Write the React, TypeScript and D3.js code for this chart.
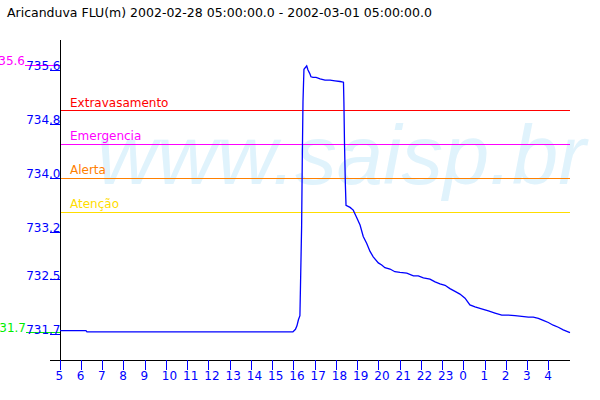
import React from "react";
import * as d3 from "d3";

const TITLE = "Aricanduva FLU(m) 2002-02-28 05:00:00.0 - 2002-03-01 05:00:00.0";
const START = new Date(2002, 1, 28, 5, 0, 0);
const END = new Date(2002, 2, 1, 5, 0, 0);

// hours after start
const hours = [
  0, 1.22, 1.27, 10.96, 11.08, 11.15, 11.22, 11.29, 11.37, 11.4, 11.435, 11.48, 11.61, 11.67, 11.75, 11.81,
  11.91, 12.05, 12.24, 12.47, 12.71, 12.94, 13.18, 13.34, 13.36, 13.39, 13.43, 13.46, 13.65, 13.8, 13.96,
  14.12, 14.27, 14.43, 14.59, 14.74, 14.98, 15.14, 15.29, 15.53, 15.76, 16.0, 16.32, 16.63, 16.86, 17.1,
  17.41, 17.65, 17.88, 18.12, 18.35, 18.59, 18.82, 19.06, 19.29, 19.53, 19.84, 20.16, 20.47, 20.79, 21.1,
  21.41, 21.73, 22.04, 22.27, 22.51, 22.74, 22.98, 23.21, 23.45, 23.68, 24.0,
];
const levels = [
  731.75, 731.75, 731.73, 731.73, 731.77, 731.82, 731.91, 731.97, 733.28, 734.23, 735.13, 735.61, 735.66,
  735.6, 735.55, 735.5, 735.49, 735.49, 735.47, 735.45, 735.45, 735.44, 735.43, 735.42, 735.13, 734.49,
  733.9, 733.6, 733.57, 733.53, 733.42, 733.31, 733.14, 733.04, 732.92, 732.84, 732.75, 732.72, 732.68,
  732.66, 732.62, 732.61, 732.6, 732.56, 732.56, 732.53, 732.51, 732.47, 732.44, 732.42, 732.37, 732.33,
  732.29, 732.23, 732.13, 732.1, 732.07, 732.04, 732.01, 731.98, 731.98, 731.97, 731.96, 731.95, 731.95,
  731.93, 731.9, 731.87, 731.83, 731.8, 731.76, 731.72,
];

const yTicks = [735.6, 734.8, 734.0, 733.2, 732.5, 731.7];
const thresholdNames = ["Extravasamento", "Emergencia", "Alerta", "Atenção"];
const thresholdValues = [735.0, 734.5, 734.0, 733.5];
const thresholdColors = ["#ff0000", "#ff00ff", "#ff8000", "#ffdd00"];
const maxValue = 735.66;
const minValue = 731.72;
const maxLabel = "735.6";
const minLabel = "731.7";

export default function App() {
  const W = 600, H = 400;
  const left = 60, right = 570, top = 40, bottom = 360;
  const x = d3.scaleTime().domain([START, END]).range([left, right]);
  const y = d3.scaleLinear().domain([731.7, 735.6]).range([334, 70]);
  const data = hours.map((h, i) => ({ t: new Date(START.getTime() + h * 3600e3), v: levels[i] }));
  const line = d3.line<{ t: Date; v: number }>().x((d) => x(d.t)).y((d) => y(d.v));
  const xTicks = x.ticks(d3.timeHour.every(1)!).filter((d) => d < END);
  const fmt = d3.timeFormat("%-H");
  const font = "DejaVu Sans, sans-serif";

  return (
    <svg width={W} height={H} style={{ position: "absolute", left: 0, top: 0, background: "#fff" }}>
      <rect x={0} y={0} width={W} height={H} fill="#fff" />
      <text x={97} y={184} fontFamily="Liberation Sans, Arial, sans-serif" fontStyle="italic" fontSize={83} fill="#e0f3fc">
        www.saisp.br
      </text>
      <text x={7} y={17} fontFamily={font} fontSize={12.5} fill="#000">{TITLE}</text>

      {thresholdValues.map((v, i) => (
        <g key={i}>
          <line x1={left} x2={right} y1={y(v)} y2={y(v)} stroke={thresholdColors[i]} strokeWidth={1} shapeRendering="crispEdges" />
          <text x={70} y={y(v) - 4} fontFamily={font} fontSize={12} fill={thresholdColors[i]}>{thresholdNames[i]}</text>
        </g>
      ))}

      {/* max/min markers */}
      <line x1={25} x2={left} y1={y(maxValue)} y2={y(maxValue)} stroke="#ff00ff" shapeRendering="crispEdges" />
      <text x={25} y={y(maxValue) - 1} textAnchor="end" fontFamily={font} fontSize={12} fill="#ff00ff">{maxLabel}</text>
      <line x1={26} x2={left} y1={y(minValue)} y2={y(minValue)} stroke="#00ee00" shapeRendering="crispEdges" />
      <text x={26} y={y(minValue) - 1} textAnchor="end" fontFamily={font} fontSize={12} fill="#00ee00">{minLabel}</text>

      {/* axes */}
      <line x1={left} x2={left} y1={top} y2={bottom} stroke="#000" shapeRendering="crispEdges" />
      <line x1={50} x2={right} y1={bottom} y2={bottom} stroke="#000" shapeRendering="crispEdges" />
      {yTicks.map((v) => (
        <g key={v}>
          <line x1={50} x2={left} y1={y(v)} y2={y(v)} stroke="#0000ff" shapeRendering="crispEdges" />
          <text x={60.5} y={y(v)} textAnchor="end" fontFamily={font} fontSize={12} fill="#0000ff">{v.toFixed(1)}</text>
        </g>
      ))}
      {xTicks.map((d) => (
        <g key={d.getTime()}>
          <line x1={x(d)} x2={x(d)} y1={bottom} y2={bottom + 10} stroke="#0000ff" shapeRendering="crispEdges" />
          <text x={x(d) - 4.5} y={380} fontFamily={font} fontSize={12} fill="#0000ff">{fmt(d)}</text>
        </g>
      ))}

      <path d={line(data) || ""} fill="none" stroke="#0000ff" strokeWidth={1.3} />
    </svg>
  );
}
